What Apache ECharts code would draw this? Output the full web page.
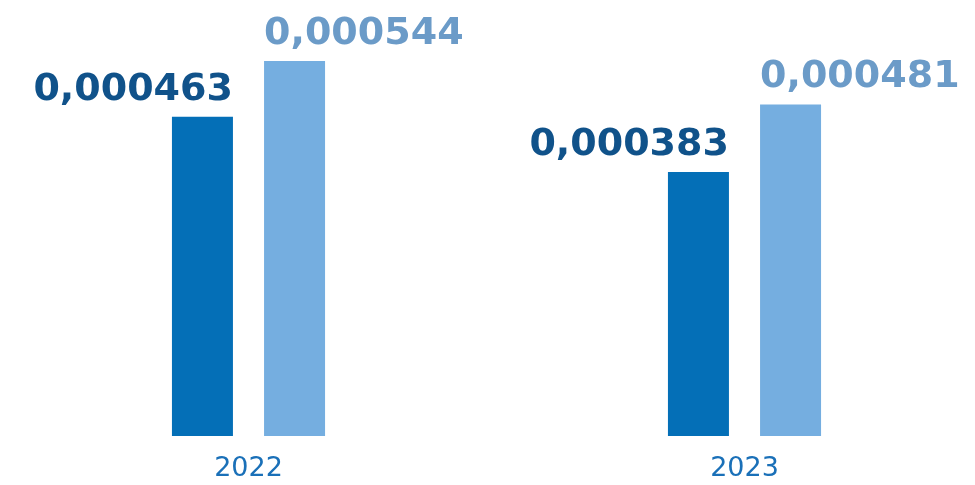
<!DOCTYPE html>
<html>
<head>
<meta charset="utf-8">
<script src="https://cdn.jsdelivr.net/npm/echarts@6/dist/echarts.min.js"></script>
<style>
  html, body { margin: 0; padding: 0; background: #fff; }
  #chart { width: 975px; height: 485px; }
</style>
</head>
<body>
<div id="chart"></div>
<script>
const years = ['2022', '2023'];
const seriesA = [0.000463, 0.000383];
const seriesB = [0.000544, 0.000481];

const fmt = (v) => v.toFixed(6).replace('.', ',');
const FONT = '"DejaVu Sans", sans-serif';

const chart = echarts.init(document.getElementById('chart'), null, { renderer: 'canvas' });
chart.setOption({
  animation: false,
  grid: { left: 0.5, width: 992, top: 61, bottom: 49, outerBoundsMode: 'none', containLabel: false },
  xAxis: {
    type: 'category',
    data: years,
    axisLine: { show: false },
    axisTick: { show: false },
    axisLabel: { color: '#1a70b8', fontSize: 27, fontFamily: FONT, margin: 19 }
  },
  yAxis: {
    type: 'value',
    min: 0,
    max: 0.000544,
    show: false,
    splitLine: { show: false }
  },
  series: [
    {
      type: 'bar',
      data: seriesA,
      barWidth: 61,
      barGap: '51%',
      itemStyle: { color: '#046fb7' },
      label: {
        show: true,
        position: ['100%', -8],
        align: 'right',
        verticalAlign: 'bottom',
        formatter: (p) => fmt(p.value),
        color: '#10528a',
        fontSize: 38,
        fontWeight: 'bold',
        fontFamily: FONT
      }
    },
    {
      type: 'bar',
      data: seriesB,
      barWidth: 61,
      itemStyle: { color: '#75aee0' },
      label: {
        show: true,
        position: [0, -8],
        align: 'left',
        verticalAlign: 'bottom',
        formatter: (p) => fmt(p.value),
        color: '#6b9bc8',
        fontSize: 38,
        fontWeight: 'bold',
        fontFamily: FONT
      }
    }
  ]
});
</script>
</body>
</html>
